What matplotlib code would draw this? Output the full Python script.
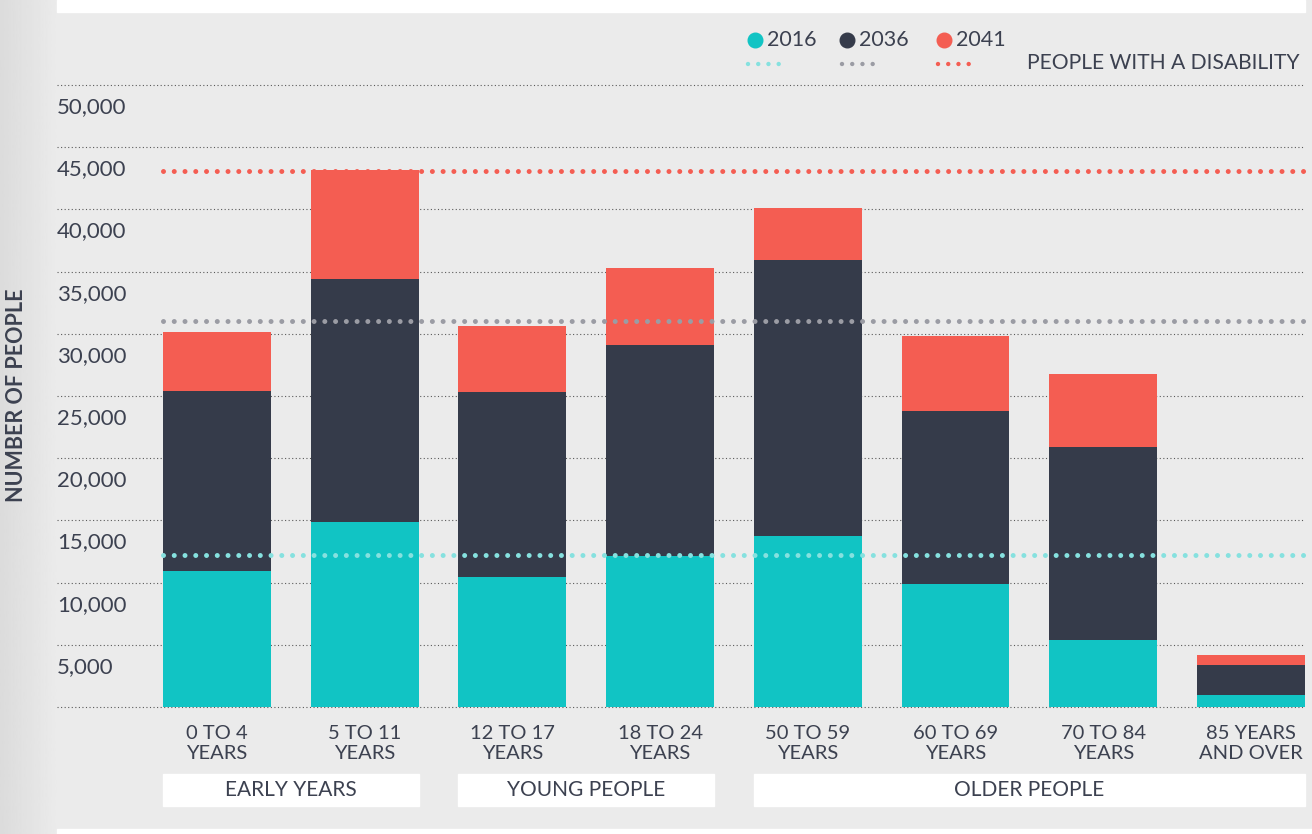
import numpy as np
import matplotlib.pyplot as plt
from matplotlib.patches import Rectangle
from matplotlib.lines import Line2D
from matplotlib.transforms import offset_copy

plt.rcParams['font.family'] = ['Lato', 'DejaVu Sans']

# data
AGE_GROUPS = ["0 TO 4\nYEARS", "5 TO 11\nYEARS", "12 TO 17\nYEARS", "18 TO 24\nYEARS",
              "50 TO 59\nYEARS", "60 TO 69\nYEARS", "70 TO 84\nYEARS", "85 YEARS\nAND OVER"]
POP_2016 = [10900, 14870, 10440, 12130, 13740, 9880, 5370, 940]
POP_2036 = [25420, 34440, 25340, 29120, 35970, 23810, 20910, 3360]
POP_2041 = [30170, 43130, 30650, 35320, 40150, 29850, 26790, 4160]
YEARS = ["2016", "2036", "2041"]
DISABILITY = [12190, 31030, 43050]
STAGES = ["EARLY YEARS", "YOUNG PEOPLE", "OLDER PEOPLE"]
STAGE_FIRST = [0, 2, 4]
STAGE_LAST = [1, 3, 7]
Y_TICKS = [5000, 10000, 15000, 20000, 25000, 30000, 35000, 40000, 45000, 50000]

TEAL = "#11c4c4"
NAVY = "#353b4a"
CORAL = "#f45d52"
BAR_COLORS = [TEAL, NAVY, CORAL]
REF_COLORS = ["#86e1df", "#9b9ca4", "#f45d52"]
TEXT = "#3c4150"
BG = "#ebebeb"

W, H = 1312, 834


def fx(px):
    return px / W


def fy(py):
    return 1 - py / H


fig = plt.figure(figsize=(W / 100, H / 100), dpi=100)
fig.patch.set_facecolor(BG)

# left gradient strip and white bands
gax = fig.add_axes([0, 0, fx(57), 1])
gax.imshow(np.linspace(0.86, 0.92, 64)[None, :], cmap="gray", vmin=0, vmax=1,
           aspect="auto", extent=[0, 1, 0, 1])
gax.axis("off")
fig.patches.append(Rectangle((fx(57), fy(12)), fx(1305 - 57), 12 / H,
                             transform=fig.transFigure, color="white", zorder=0))
fig.patches.append(Rectangle((fx(57), 0), 1 - fx(57), 5 / H,
                             transform=fig.transFigure, color="white", zorder=0))

ax = fig.add_axes([fx(57), fy(707), fx(1305 - 57), 622 / H])
ax.set_facecolor("none")
x = np.arange(len(AGE_GROUPS))
bw = 0.73
ax.set_xlim(-1.083, 7.366)
ax.set_ylim(0, 50000)

for v in [0] + Y_TICKS:
    ax.axhline(v, color="#5a5a5a", lw=0.8, ls=(0, (1, 2.2)), zorder=1, clip_on=False)

ax.bar(x, POP_2041, bw, color=CORAL, zorder=2)
ax.bar(x, POP_2036, bw, color=NAVY, zorder=2)
ax.bar(x, POP_2016, bw, color=TEAL, zorder=2)

for v, c in zip(DISABILITY, REF_COLORS):
    ax.hlines(v, x[0] - bw / 2, 7.366, color=c, lw=3.6, ls=(0, (0.001, 2.15)),
              capstyle="round", zorder=3, clip_on=False)

ytr = offset_copy(ax.get_yaxis_transform(), fig=fig, x=0, y=-22, units="dots")
for v in Y_TICKS:
    ax.text(0, v, f"{v:,}", transform=ytr, ha="left", va="center",
            fontsize=16, color=TEXT)

ax.set_xticks(x, AGE_GROUPS)
ax.tick_params(axis="x", length=0, pad=13, labelsize=14.5, labelcolor=TEXT)
for lab in ax.get_xticklabels():
    lab.set_linespacing(1.24)
ax.set_yticks([])
for s in ax.spines.values():
    s.set_visible(False)

# life stage boxes under the age labels
xtr = ax.get_xaxis_transform()
for name, a, b in zip(STAGES, STAGE_FIRST, STAGE_LAST):
    left = x[a] - bw / 2
    right = x[b] + bw / 2
    ax.add_patch(Rectangle((left, -99 / 622), right - left, 32 / 622, transform=xtr,
                           color="white", clip_on=False, zorder=1))
    ax.text((left + right) / 2, -83 / 622, name, transform=xtr, ha="center",
            va="center", fontsize=15, color=TEXT)

fig.text(fx(17), fy(395), "NUMBER OF PEOPLE", rotation=90, ha="center", va="center",
         fontsize=15.5, fontweight="bold", color=TEXT)

# legend
for i, (yr, c, rc) in enumerate(zip(YEARS, BAR_COLORS, REF_COLORS)):
    cx = [755, 847, 944][i]
    fig.add_artist(Line2D([fx(cx)], [fy(40)], marker="o", ms=10.5, color=c,
                          transform=fig.transFigure))
    fig.text(fx(cx + 12), fy(40), yr, ha="left", va="center", fontsize=15.5, color=TEXT)
    lx = [748, 842, 938][i]
    fig.add_artist(Line2D([fx(lx), fx(lx + 38)], [fy(64), fy(64)], color=rc, lw=3.2,
                          ls=(0, (0.001, 2.3)), dash_capstyle="round",
                          transform=fig.transFigure))
fig.text(fx(1300), fy(63), "PEOPLE WITH A DISABILITY", ha="right", va="center",
         fontsize=15.2, color=TEXT)

fig.savefig("out.png", dpi=100, facecolor=BG)
